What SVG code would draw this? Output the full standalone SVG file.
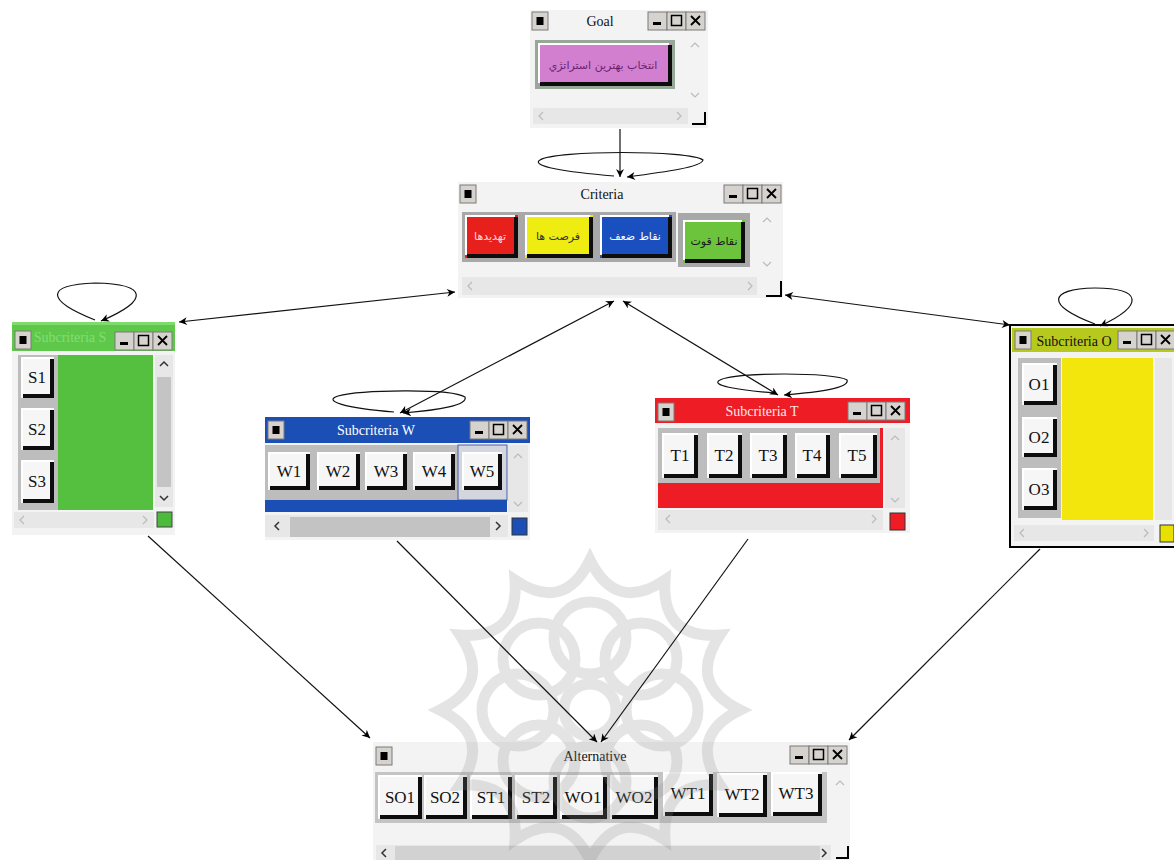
<svg xmlns="http://www.w3.org/2000/svg" xmlns:xlink="http://www.w3.org/1999/xlink" width="1174" height="860" viewBox="0 0 1174 860">
<style>
.t{font-family:"Liberation Serif","Times New Roman",serif;font-size:14px;text-anchor:middle;fill:#111}
.bl{font-family:"Liberation Serif","Times New Roman",serif;font-size:17px;text-anchor:middle;fill:#111}
.ar{font-family:"DejaVu Sans","Noto Sans",sans-serif;font-size:11px;text-anchor:middle}
.win{fill:#f3f3f3}
.tbb{fill:#d6d3ce;stroke:#7a7a7a;stroke-width:1}
.sh{fill:none;stroke:#0d0d0d;stroke-width:4}
.hl{fill:none;stroke:#fff;stroke-width:2}
.wb{fill:#f6f6f6}
.gp{fill:#bdbdbd}
.sc{fill:#e7e7e7}
.chev{fill:none;stroke:#bbb;stroke-width:1.2}
.chevd{fill:none;stroke:#333;stroke-width:1.5}
.cn{fill:none;stroke:#111;stroke-width:1.2}
.wm{fill:none;stroke:#8a8a8a;stroke-width:11}
</style>
<defs>
<marker id="ah" viewBox="0 0 10 10" refX="10" refY="5" markerWidth="11" markerHeight="8" markerUnits="userSpaceOnUse" orient="auto-start-reverse"><path d="M0,0 L10,5 L0,10 L3,5 z" fill="#000"/></marker>
<g id="tb">
<rect x="0" y="0" width="19" height="18" class="tbb"/>
<rect x="19" y="0" width="19" height="18" class="tbb"/>
<rect x="38" y="0" width="19" height="18" class="tbb"/>
<rect x="5" y="10" width="8" height="3" fill="#000"/>
<rect x="23.5" y="3.5" width="10" height="10" fill="none" stroke="#000" stroke-width="1.5"/>
<path d="M43,4 L52,13 M52,4 L43,13" stroke="#000" stroke-width="1.8"/>
</g>
<g id="ic">
<rect x="0" y="0" width="16" height="18" class="tbb"/>
<rect x="4.5" y="5" width="7" height="8" fill="#000"/>
</g>
</defs>

<rect width="1174" height="860" fill="#fff"/>

<!-- Goal -->
<g id="goal">
<rect x="530" y="10" width="178" height="118" class="win"/>
<use href="#ic" x="532" y="12"/>
<text x="600" y="26" class="t">Goal</text>
<use href="#tb" x="648" y="12"/>
<rect x="535" y="40" width="140" height="49" fill="#98a898"/>
<rect x="538" y="43" width="134" height="43" fill="#d27fd0"/>
<path class="sh" d="M670,45 V84 H540"/>
<path class="hl" d="M539,83 V44 H669"/>
<text x="603" y="69" class="ar" fill="#6b1f70">انتخاب بهترين استراتژي</text>
<path class="chev" d="M691,47 L695,43 L699,47 M691,93 L695,97 L699,93"/>
<rect x="533" y="108" width="155" height="16" class="sc"/>
<path class="chev" d="M543,112 L539,116 L543,120 M677,112 L681,116 L677,120"/>
<path d="M705,112 V124 H692" fill="none" stroke="#000" stroke-width="2"/>
</g>

<!-- Criteria -->
<g id="criteria">
<rect x="458" y="182" width="325" height="116" class="win"/>
<use href="#ic" x="460" y="185"/>
<text x="602" y="199" class="t">Criteria</text>
<use href="#tb" x="724" y="185"/>
<rect x="462" y="212" width="60" height="50" fill="#a8a8a8"/>
<rect x="465" y="215" width="53" height="43" fill="#e8201c"/>
<path class="sh" d="M516,217 V256 H467"/>
<path class="hl" d="M466,255 V216 H515"/>
<text x="490" y="240" class="ar" fill="#ffd6d6">تهديدها</text>
<rect x="522" y="212" width="75" height="50" fill="#a8a8a8"/>
<rect x="525" y="215" width="68" height="43" fill="#efec12"/>
<path class="sh" d="M591,217 V256 H527"/>
<path class="hl" d="M526,255 V216 H590"/>
<text x="558" y="240" class="ar" fill="#333">فرصت ها</text>
<rect x="597" y="212" width="79" height="50" fill="#a8a8a8"/>
<rect x="600" y="215" width="72" height="43" fill="#1a4fc0"/>
<path class="sh" d="M670,217 V256 H602"/>
<path class="hl" d="M601,255 V216 H669"/>
<text x="635" y="240" class="ar" fill="#fff">نقاط ضعف</text>
<rect x="678" y="213" width="72" height="54" fill="#a8a8a8"/>
<rect x="683" y="220" width="62" height="43" fill="#6cc43c"/>
<path class="sh" d="M743,222 V261 H685"/>
<path class="hl" d="M684,260 V221 H742"/>
<text x="714" y="245" class="ar" fill="#1a1a1a">نقاط قوت</text>
<path class="chev" d="M763,222 L767,218 L771,222 M763,262 L767,266 L771,262"/>
<rect x="462" y="277" width="295" height="18" class="sc"/>
<path class="chev" d="M472,282 L468,286 L472,290 M748,282 L752,286 L748,290"/>
<path d="M781,281 V296 H766" fill="none" stroke="#000" stroke-width="2"/>
</g>

<!-- Subcriteria S -->
<g id="sub-s">
<rect x="12" y="322" width="163" height="213" class="win"/>
<rect x="12" y="322" width="163" height="29" fill="#5ec84a"/>
<rect x="12" y="322" width="163" height="3" fill="#7fdc6c"/>
<use href="#ic" x="15" y="331"/>
<text x="70" y="342" class="t" style="fill:#86dc76">Subcriteria S</text>
<use href="#tb" x="115" y="332"/>
<rect x="18" y="355" width="40" height="155" class="gp"/>
<rect x="21" y="357" width="33" height="41" class="wb"/>
<path class="sh" d="M52,359 V396 H23"/><path class="hl" d="M22,395 V358 H51"/>
<text x="37" y="383" class="bl">S1</text>
<rect x="21" y="408" width="33" height="42" class="wb"/>
<path class="sh" d="M52,410 V448 H23"/><path class="hl" d="M22,447 V409 H51"/>
<text x="37" y="435" class="bl">S2</text>
<rect x="21" y="460" width="33" height="43" class="wb"/>
<path class="sh" d="M52,462 V501 H23"/><path class="hl" d="M22,500 V461 H51"/>
<text x="37" y="487" class="bl">S3</text>
<rect x="58" y="355" width="95" height="155" fill="#55c040"/>
<rect x="155" y="355" width="18" height="152" class="sc"/>
<rect x="157" y="377" width="14" height="110" fill="#c4c4c4"/>
<path class="chevd" d="M160,366 L164,362 L168,366 M160,496 L164,500 L168,496"/>
<rect x="14" y="512" width="140" height="16" class="sc"/>
<path class="chev" d="M24,516 L20,520 L24,524 M143,516 L147,520 L143,524"/>
<rect x="157" y="512" width="15" height="15" fill="#4cbb3c" stroke="#444"/>
</g>

<!-- Subcriteria W -->
<g id="sub-w">
<rect x="265" y="417" width="265" height="123" class="win"/>
<rect x="265" y="417" width="265" height="26" fill="#1b4fb5"/>
<use href="#ic" x="268" y="421"/>
<text x="376" y="435" class="t" style="fill:#fff">Subcriteria W</text>
<use href="#tb" x="470" y="421"/>
<rect x="265" y="445" width="195" height="55" class="gp"/>
<rect x="458" y="445" width="49" height="55" fill="#d4d6de" stroke="#4a5ab0"/>
<rect x="268" y="452" width="42" height="38" class="wb"/>
<path class="sh" d="M308,454 V488 H270"/><path class="hl" d="M269,487 V453 H307"/>
<text x="289" y="477" class="bl">W1</text>
<rect x="317" y="452" width="43" height="38" class="wb"/>
<path class="sh" d="M358,454 V488 H319"/><path class="hl" d="M318,487 V453 H357"/>
<text x="338" y="477" class="bl">W2</text>
<rect x="365" y="452" width="42" height="38" class="wb"/>
<path class="sh" d="M405,454 V488 H367"/><path class="hl" d="M366,487 V453 H404"/>
<text x="386" y="477" class="bl">W3</text>
<rect x="413" y="452" width="42" height="38" class="wb"/>
<path class="sh" d="M453,454 V488 H415"/><path class="hl" d="M414,487 V453 H452"/>
<text x="434" y="477" class="bl">W4</text>
<rect x="462" y="452" width="40" height="38" class="wb"/>
<path class="sh" d="M500,454 V488 H464"/><path class="hl" d="M463,487 V453 H499"/>
<text x="482" y="477" class="bl">W5</text>
<rect x="265" y="500" width="242" height="12" fill="#1b4fb5"/>
<rect x="508" y="445" width="20" height="67" class="sc"/>
<path class="chev" d="M514,458 L518,454 L522,458 M514,502 L518,506 L522,502"/>
<rect x="265" y="515" width="243" height="22" class="sc"/>
<rect x="290" y="517" width="200" height="20" fill="#c3c3c3"/>
<path class="chevd" d="M279,522 L275,526 L279,530 M496,522 L500,526 L496,530"/>
<rect x="512" y="518" width="15" height="17" fill="#1b4fb5" stroke="#333"/>
</g>

<!-- Subcriteria T -->
<g id="sub-t">
<rect x="655" y="398" width="255" height="135" class="win"/>
<rect x="655" y="398" width="255" height="25" fill="#ee1c24"/>
<use href="#ic" x="658" y="403"/>
<text x="762" y="416" class="t" style="fill:#ffe6e6">Subcriteria T</text>
<use href="#tb" x="848" y="402"/>
<rect x="658" y="428" width="225" height="80" fill="#ee1c24"/>
<rect x="658" y="428" width="222" height="55" class="gp"/>
<rect x="662" y="433" width="36" height="45" class="wb"/>
<path class="sh" d="M696,435 V476 H664"/><path class="hl" d="M663,475 V434 H695"/>
<text x="680" y="461" class="bl">T1</text>
<rect x="707" y="433" width="35" height="45" class="wb"/>
<path class="sh" d="M740,435 V476 H709"/><path class="hl" d="M708,475 V434 H739"/>
<text x="724" y="461" class="bl">T2</text>
<rect x="750" y="433" width="37" height="45" class="wb"/>
<path class="sh" d="M785,435 V476 H752"/><path class="hl" d="M751,475 V434 H784"/>
<text x="768" y="461" class="bl">T3</text>
<rect x="795" y="433" width="35" height="45" class="wb"/>
<path class="sh" d="M828,435 V476 H797"/><path class="hl" d="M796,475 V434 H827"/>
<text x="812" y="461" class="bl">T4</text>
<rect x="839" y="433" width="38" height="45" class="wb"/>
<path class="sh" d="M875,435 V476 H841"/><path class="hl" d="M840,475 V434 H874"/>
<text x="857" y="461" class="bl">T5</text>
<rect x="885" y="428" width="20" height="80" class="sc"/>
<path class="chev" d="M891,440 L895,436 L899,440 M891,498 L895,502 L899,498"/>
<rect x="658" y="510" width="225" height="20" class="sc"/>
<path class="chev" d="M670,515 L666,519 L670,523 M872,515 L876,519 L872,523"/>
<rect x="890" y="513" width="15" height="17" fill="#ee1c24" stroke="#333"/>
</g>

<!-- Subcriteria O -->
<g id="sub-o">
<rect x="1010" y="325" width="168" height="222" class="win" stroke="#000" stroke-width="2"/>
<rect x="1012" y="328" width="162" height="24" fill="#b7c91c"/>
<use href="#ic" x="1015" y="331"/>
<text x="1074" y="346" class="t">Subcriteria O</text>
<use href="#tb" x="1118" y="331"/>
<rect x="1018" y="358" width="43" height="160" class="gp"/>
<rect x="1022" y="363" width="35" height="42" class="wb"/>
<path class="sh" d="M1055,365 V403 H1024"/><path class="hl" d="M1023,402 V364 H1054"/>
<text x="1039" y="390" class="bl">O1</text>
<rect x="1022" y="417" width="35" height="40" class="wb"/>
<path class="sh" d="M1055,419 V455 H1024"/><path class="hl" d="M1023,454 V418 H1054"/>
<text x="1039" y="443" class="bl">O2</text>
<rect x="1022" y="468" width="35" height="42" class="wb"/>
<path class="sh" d="M1055,470 V508 H1024"/><path class="hl" d="M1023,507 V469 H1054"/>
<text x="1039" y="495" class="bl">O3</text>
<rect x="1062" y="358" width="91" height="162" fill="#f2e60c"/>
<rect x="1155" y="358" width="17" height="162" class="sc"/>
<rect x="1014" y="525" width="140" height="16" class="sc"/>
<path class="chev" d="M1024,529 L1020,533 L1024,537 M1144,529 L1148,533 L1144,537"/>
<rect x="1160" y="525" width="14" height="17" fill="#e8e000" stroke="#333"/>
</g>

<!-- Alternative -->
<g id="alternative">
<rect x="373" y="742" width="477" height="118" class="win"/>
<use href="#ic" x="376" y="747"/>
<text x="595" y="761" class="t">Alternative</text>
<use href="#tb" x="790" y="746"/>
<rect x="375" y="772" width="452" height="51" fill="#c4c4c4"/>
<rect x="378" y="775" width="44" height="44" class="wb"/>
<path class="sh" d="M420,777 V817 H380"/><path class="hl" d="M379,816 V776 H419"/>
<text x="400" y="803" class="bl">SO1</text>
<rect x="424" y="775" width="43" height="44" class="wb"/>
<path class="sh" d="M465,777 V817 H426"/><path class="hl" d="M425,816 V776 H464"/>
<text x="445" y="803" class="bl">SO2</text>
<rect x="470" y="775" width="42" height="44" class="wb"/>
<path class="sh" d="M510,777 V817 H472"/><path class="hl" d="M471,816 V776 H509"/>
<text x="491" y="803" class="bl">ST1</text>
<rect x="515" y="775" width="42" height="44" class="wb"/>
<path class="sh" d="M555,777 V817 H517"/><path class="hl" d="M516,816 V776 H554"/>
<text x="536" y="803" class="bl">ST2</text>
<rect x="560" y="775" width="47" height="44" class="wb"/>
<path class="sh" d="M605,777 V817 H562"/><path class="hl" d="M561,816 V776 H604"/>
<text x="583" y="803" class="bl">WO1</text>
<rect x="610" y="775" width="48" height="44" class="wb"/>
<path class="sh" d="M656,777 V817 H612"/><path class="hl" d="M611,816 V776 H655"/>
<text x="634" y="803" class="bl">WO2</text>
<rect x="663" y="772" width="50" height="44" class="wb"/>
<path class="sh" d="M711,774 V814 H665"/><path class="hl" d="M664,813 V773 H710"/>
<text x="688" y="799" class="bl">WT1</text>
<rect x="717" y="773" width="50" height="44" class="wb"/>
<path class="sh" d="M765,775 V815 H719"/><path class="hl" d="M718,814 V774 H764"/>
<text x="742" y="800" class="bl">WT2</text>
<rect x="771" y="772" width="51" height="44" class="wb"/>
<path class="sh" d="M820,774 V814 H773"/><path class="hl" d="M772,813 V773 H819"/>
<text x="796" y="799" class="bl">WT3</text>
<path class="chev" d="M836,785 L840,781 L844,785"/>
<rect x="376" y="845" width="455" height="15" class="sc"/>
<rect x="395" y="846" width="425" height="14" fill="#d2d2d2"/>
<path class="chevd" d="M386,849 L382,853 L386,857 M822,849 L826,853 L822,857"/>
<path d="M848,846 V858 H836" fill="none" stroke="#000" stroke-width="2"/>
</g>

<!-- watermark -->
<g id="watermark" opacity="0.22">
<path class="wm" d="M590,560 Q616,613 665,580 Q661,639 720,635 Q687,684 740,710 Q687,736 720,785 Q661,781 665,840 Q616,807 590,860 Q564,807 515,840 Q519,781 460,785 Q493,736 440,710 Q493,684 460,635 Q519,639 515,580 Q564,613 590,560 Z"/>
<circle class="wm" cx="662" cy="710" r="36"/>
<circle class="wm" cx="641" cy="761" r="36"/>
<circle class="wm" cx="590" cy="782" r="36"/>
<circle class="wm" cx="539" cy="761" r="36"/>
<circle class="wm" cx="518" cy="710" r="36"/>
<circle class="wm" cx="539" cy="659" r="36"/>
<circle class="wm" cx="590" cy="638" r="36"/>
<circle class="wm" cx="641" cy="659" r="36"/>
<circle class="wm" cx="590" cy="710" r="26"/>
</g>

<!-- connectors -->
<g id="connectors">
<path class="cn" d="M620,129 V177" marker-end="url(#ah)"/>
<path class="cn" d="M614,176 C565,172 530,166 540,160 C555,150 690,150 703,160 C702,167 665,172 627,177" marker-end="url(#ah)"/>
<path class="cn" d="M95,320 C45,300 45,285 95,283 C148,284 150,300 101,321" marker-end="url(#ah)"/>
<path class="cn" d="M1095,324 C1045,305 1048,289 1095,288 C1142,288 1145,305 1100,326" marker-end="url(#ah)"/>
<path class="cn" d="M394,412 C345,408 322,401 338,396 C360,390 450,388 465,397 C468,405 440,410 403,413" marker-end="url(#ah)"/>
<path class="cn" d="M775,393 C735,390 710,385 720,380 C735,372 835,372 847,380 C850,388 820,392 784,395" marker-end="url(#ah)"/>
<path class="cn" d="M179,322 L455,292" marker-start="url(#ah)" marker-end="url(#ah)"/>
<path class="cn" d="M785,295 L1010,325" marker-start="url(#ah)" marker-end="url(#ah)"/>
<path class="cn" d="M614,301 L400,413" marker-start="url(#ah)" marker-end="url(#ah)"/>
<path class="cn" d="M623,301 L778,395" marker-start="url(#ah)" marker-end="url(#ah)"/>
<path class="cn" d="M148,536 L370,738" marker-end="url(#ah)"/>
<path class="cn" d="M397,541 L597,742" marker-end="url(#ah)"/>
<path class="cn" d="M748,539 L601,742" marker-end="url(#ah)"/>
<path class="cn" d="M1040,549 L849,740" marker-end="url(#ah)"/>
</g>
</svg>
